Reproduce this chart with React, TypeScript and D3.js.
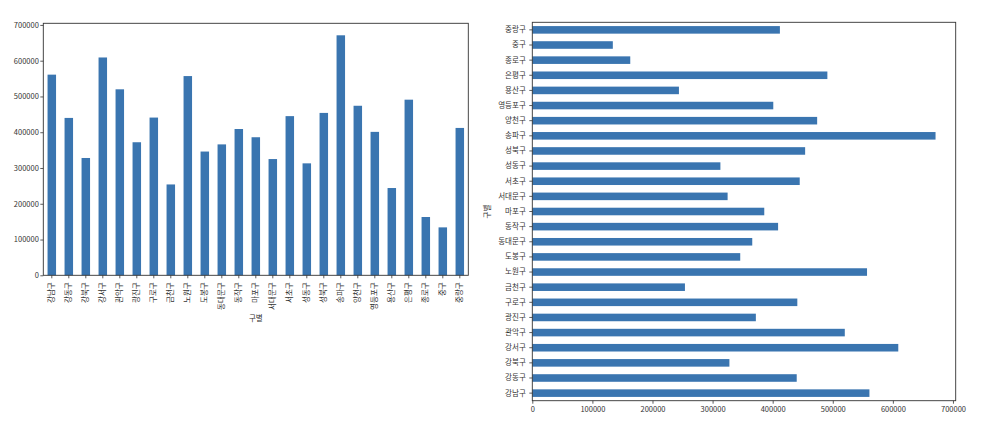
import React, { useEffect, useRef } from "react";
import * as d3 from "d3";

const districts = [
  "강남구", "강동구", "강북구", "강서구", "관악구", "광진구", "구로구", "금천구",
  "노원구", "도봉구", "동대문구", "동작구", "마포구", "서대문구", "서초구", "성동구",
  "성북구", "송파구", "양천구", "영등포구", "용산구", "은평구", "종로구", "중구", "중랑구",
];
const population = [
  561000, 440000, 328000, 609000, 520000, 372000, 441000, 254000,
  557000, 346000, 366000, 409000, 386000, 325000, 445000, 313000,
  454000, 671000, 474000, 401000, 244000, 491000, 163000, 134000, 412000,
];
const valueTicks = [0, 100000, 200000, 300000, 400000, 500000, 600000, 700000];
const axisTitle = "구별";

const FONT = "'Noto Sans CJK KR', 'Noto Sans', sans-serif";
const BAR = "#3a75b0";
const SPINE = "#333";
const TEXT = "#333";
const FS = 7.5;

export default function App() {
  const ref = useRef<SVGSVGElement | null>(null);

  useEffect(() => {
    const svg = d3.select(ref.current);
    svg.selectAll("*").remove();
    const vmax = d3.max(population)! * 1.05;

    // ---------- Left: vertical bars ----------
    const L = { x0: 43.3, x1: 468.3, y0: 23.3, y1: 275.3 };
    const xb = d3.scaleBand<string>().domain(districts).range([L.x0, L.x1]).paddingInner(0.5).paddingOuter(0.25);
    const yl = d3.scaleLinear().domain([0, vmax]).range([L.y1, L.y0]);
    const gL = svg.append("g");
    gL.selectAll("rect").data(districts).join("rect")
      .attr("x", (d) => xb(d)!)
      .attr("width", xb.bandwidth())
      .attr("y", (_d, i) => yl(population[i]))
      .attr("height", (_d, i) => yl(0) - yl(population[i]))
      .attr("fill", BAR);

    const yAxisL = gL.append("g").attr("transform", `translate(${L.x0},0)`)
      .call(d3.axisLeft(yl).tickValues(valueTicks).tickFormat(d3.format("d")).tickSize(3).tickPadding(1.5));
    const xAxisL = gL.append("g").attr("transform", `translate(0,${L.y1})`)
      .call(d3.axisBottom(xb).tickSize(3).tickPadding(4));
    xAxisL.selectAll("text")
      .attr("transform", function () {
        return `translate(0,${7}) rotate(-90)`;
      })
      .attr("y", 0).attr("x", 0).attr("dy", "0.35em")
      .style("text-anchor", "end");
    gL.append("rect").attr("x", L.x0).attr("y", L.y0).attr("width", L.x1 - L.x0).attr("height", L.y1 - L.y0)
      .attr("fill", "none").attr("stroke", SPINE).attr("stroke-width", 0.9);
    gL.append("text").attr("x", (L.x0 + L.x1) / 2).attr("y", 321).attr("text-anchor", "middle").text(axisTitle);

    // ---------- Right: horizontal bars ----------
    const R = { x0: 532.3, x1: 955.7, y0: 22.3, y1: 400.7 };
    const yb = d3.scaleBand<string>().domain(districts).range([R.y1, R.y0]).paddingInner(0.5).paddingOuter(0.25);
    const xr = d3.scaleLinear().domain([0, vmax]).range([R.x0, R.x1]);
    const gR = svg.append("g");
    gR.selectAll("rect").data(districts).join("rect")
      .attr("x", xr(0))
      .attr("width", (_d, i) => xr(population[i]) - xr(0))
      .attr("y", (d) => yb(d)!)
      .attr("height", yb.bandwidth())
      .attr("fill", BAR);
    gR.append("g").attr("transform", `translate(${R.x0},0)`)
      .call(d3.axisLeft(yb).tickSize(3).tickPadding(3.5));
    gR.append("g").attr("transform", `translate(0,${R.y1})`)
      .call(d3.axisBottom(xr).tickValues(valueTicks).tickFormat(d3.format("d")).tickSize(3).tickPadding(3));
    gR.append("rect").attr("x", R.x0).attr("y", R.y0).attr("width", R.x1 - R.x0).attr("height", R.y1 - R.y0)
      .attr("fill", "none").attr("stroke", SPINE).attr("stroke-width", 0.9);
    gR.append("text").attr("transform", `translate(490,${(R.y0 + R.y1) / 2}) rotate(-90)`)
      .attr("text-anchor", "middle").text(axisTitle);

    // styling
    svg.selectAll(".domain").remove();
    svg.selectAll(".tick line").attr("stroke", SPINE).attr("stroke-width", 0.8);
    svg.selectAll("text").attr("font-family", FONT).attr("font-size", FS).attr("fill", TEXT);
    void yAxisL;
  }, []);

  return (
    <svg
      ref={ref}
      width={985}
      height={433}
      style={{ position: "absolute", left: 0, top: 0, background: "#fff" }}
    />
  );
}
